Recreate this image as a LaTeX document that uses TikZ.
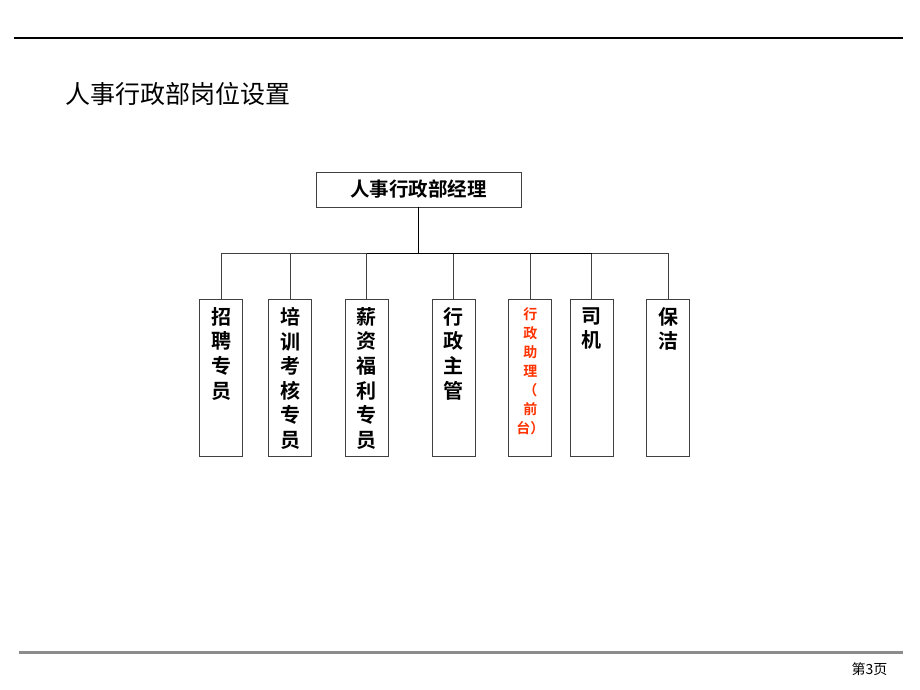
\documentclass[tikz,border=0pt]{standalone}
\usepackage{fontspec}
\setmainfont{Noto Sans CJK SC}[BoldFont={Noto Sans CJK SC Bold}]
\usetikzlibrary{positioning}
\definecolor{rulegray}{RGB}{140,140,140}
\definecolor{frontred}{RGB}{255,51,0}
\tikzset{%
head/.style={draw=darkgray,line width=0.8pt,minimum width=205pt,minimum height=35pt,inner sep=0pt,font=\bfseries\fontsize{19.5}{22}\selectfont},
post/.style={draw=darkgray,line width=0.8pt,inner xsep=0pt,inner ysep=8pt,minimum width=43pt,font=\bfseries\fontsize{20}{24.6}\selectfont},
smallpost/.style={post,text=frontred,font=\bfseries\fontsize{14}{19}\selectfont},
branch/.style={draw=darkgray,line width=0.7pt},
trunk/.style={draw=black,line width=1.6pt}
}
\newcommand{\vtext}[1]{\parbox[c][141pt][t]{30pt}{\centering #1}}

\begin{document}
\begin{tikzpicture}

    \useasboundingbox (0,0) rectangle (920pt,690pt);

    % page rules and titles
    \draw[line width=1.2pt] (14pt,652pt) -- (903pt,652pt);
    \draw[rulegray,line width=3pt] (19pt,37pt) -- (903pt,37pt);
    \node[anchor=west,font=\fontsize{25}{25}\selectfont] (title) at (62pt,596pt) {人事行政部岗位设置};
    \node[anchor=east,font=\fontsize{14}{14}\selectfont] (page) at (891pt,21pt) {第3页};

    % chart
    \node[head] (mgr) at (418.5pt,500.5pt) {人事行政部经理};
    \node[post,anchor=north] (zp) at (221pt,391pt) {\vtext{招\\聘\\专\\员}};
    \node[post] (px)   [right=25.2pt of zp] {\vtext{培\\训\\考\\核\\专\\员}};
    \node[post] (xc)   [right=32.8pt of px] {\vtext{薪\\资\\福\\利\\专\\员}};
    \node[post] (zg)   [right=43.3pt of xc] {\vtext{行\\政\\主\\管}};
    \node[smallpost] (zl) [right=32.8pt of zg] {\vtext{行\\政\\助\\理\\（\\前\\台）}};
    \node[post] (sj)   [right=17.5pt of zl] {\vtext{司\\机}};
    \node[post] (bj)   [right=32.6pt of sj] {\vtext{保\\洁}};

    \path (mgr.south) ++(0,-46pt) coordinate (hub);
    \draw[branch] (zp.north |- hub) -- (bj.north |- hub);
    \foreach \n in {zp,px,xc,zg,zl,sj,bj}
        \draw[branch] (\n.north) -- (\n.north |- hub);
    \draw[trunk] (mgr.south) -- (hub);
    \draw[black,line width=1.4pt] (xc.north |- hub) -- (sj.north |- hub);

\end{tikzpicture}
\end{document}
